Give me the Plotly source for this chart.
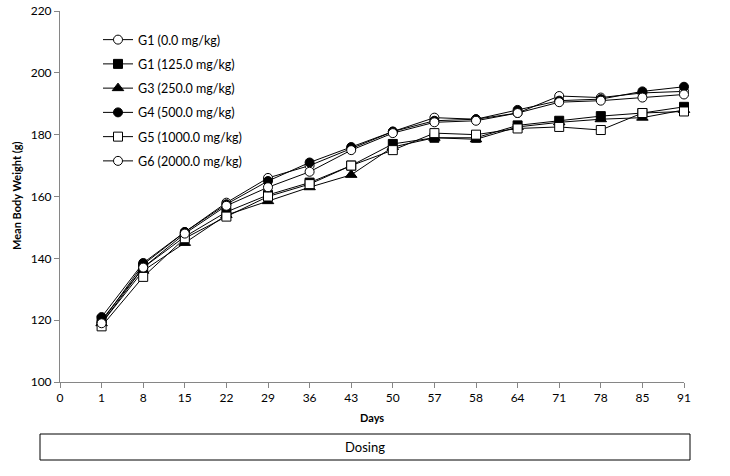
import plotly.graph_objects as go

days = ["0", "1", "8", "15", "22", "29", "36", "43", "50", "57", "58", "64", "71", "78", "85", "91"]
data_days = days[1:]

g1_0 = [119.5, 138.0, 148.5, 158.0, 166.0, 170.0, 175.5, 181.0, 185.5, 185.0, 187.0, 192.5, 192.0, 193.5, 194.0]
g2_125 = [120.0, 137.0, 147.0, 155.0, 160.5, 164.5, 170.0, 177.0, 179.0, 179.0, 183.0, 184.5, 186.0, 187.0, 189.0]
g3_250 = [119.0, 136.0, 145.0, 154.0, 158.5, 163.0, 167.0, 176.0, 179.0, 178.5, 182.5, 184.0, 185.0, 185.5, 188.0]
g4_500 = [121.0, 138.5, 148.5, 157.5, 165.0, 171.0, 176.0, 181.0, 184.5, 185.0, 188.0, 191.0, 191.5, 194.0, 195.5]
g5_1000 = [118.0, 134.0, 146.5, 153.5, 160.0, 164.0, 170.0, 175.0, 180.5, 180.0, 182.0, 182.5, 181.5, 187.0, 187.5]
g6_2000 = [119.0, 137.0, 148.0, 157.0, 163.0, 168.0, 175.0, 180.5, 184.0, 184.5, 187.0, 190.5, 191.0, 192.0, 193.0]

series = [
    ("G1 (0.0 mg/kg)", g1_0, "circle", "white"),
    ("G1 (125.0 mg/kg)", g2_125, "square", "black"),
    ("G3 (250.0 mg/kg)", g3_250, "triangle-up", "black"),
    ("G4 (500.0 mg/kg)", g4_500, "circle", "black"),
    ("G5 (1000.0 mg/kg)", g5_1000, "square", "white"),
    ("G6 (2000.0 mg/kg)", g6_2000, "circle", "white"),
]

xpos = [days.index(d) for d in data_days]

fig = go.Figure()
for i, (name, vals, sym, fill) in enumerate(series):
    fig.add_trace(go.Scatter(
        x=xpos, y=vals, name=name, mode="lines+markers",
        legendgroup=f"g{i}",
        line=dict(color="black", width=1),
        marker=dict(symbol=sym, size=9 if sym != "triangle-up" else 10,
                    color=fill, line=dict(color="black", width=1)),
        cliponaxis=False,
    ))

font_family = "Lato, 'Open Sans', sans-serif"

# plot area: x 60..684, y 11..382 (pixels)
L, R, T, B = 60, 46, 11, 94
pw, ph = 730 - L - R, 476 - T - B


def px_x(x):
    return (x - L) / pw


def px_y(y):
    return (476 - B - y) / ph


fig.update_layout(
    width=730, height=476,
    margin=dict(l=L, r=R, t=T, b=B, autoexpand=False),
    plot_bgcolor="white", paper_bgcolor="white",
    font=dict(family=font_family, size=12, color="black"),
    showlegend=True,
    legend=dict(x=px_x(98), y=px_y(25), xanchor="left", yanchor="top",
                bgcolor="rgba(0,0,0,0)", tracegroupgap=5, itemwidth=30,
                font=dict(size=12.5, family=font_family)),
    xaxis=dict(
        range=[0, 15], automargin=False,
        tickmode="array", tickvals=list(range(len(days))), ticktext=days,
        showgrid=False, zeroline=False,
        showline=True, linecolor="#868686", linewidth=1,
        ticks="outside", ticklen=5, tickcolor="#868686",
        tickfont=dict(size=12),
    ),
    yaxis=dict(
        range=[100, 220], automargin=False,
        tickvals=[100, 120, 140, 160, 180, 200, 220],
        showgrid=False, zeroline=False,
        showline=True, linecolor="#868686", linewidth=1,
        ticks="outside", ticklen=5, tickcolor="#868686",
        tickfont=dict(size=12),
    ),
)

fig.add_annotation(text="<b>Days</b>", xref="paper", yref="paper",
                   x=px_x(372), y=px_y(418), showarrow=False,
                   xanchor="center", yanchor="middle", font=dict(size=11))
fig.add_annotation(text="<b>Mean Body Weight (g)</b>", xref="paper", yref="paper",
                   x=px_x(16), y=px_y(196), showarrow=False, textangle=-90,
                   xanchor="center", yanchor="middle", font=dict(size=11))

fig.add_shape(type="rect", xref="paper", yref="paper",
              x0=px_x(40), x1=px_x(690), y0=px_y(460), y1=px_y(434),
              line=dict(color="black", width=1), fillcolor="white")
fig.add_annotation(text="Dosing", xref="paper", yref="paper",
                   x=px_x(365), y=px_y(447), showarrow=False,
                   xanchor="center", yanchor="middle",
                   font=dict(size=13, family=font_family))

fig.write_html("out.html", config={"displayModeBar": False},
               post_script="document.body.style.margin='0';document.body.style.padding='0';")
